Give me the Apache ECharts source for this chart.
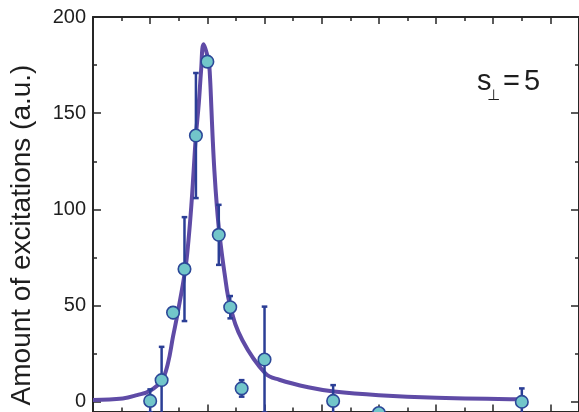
<!DOCTYPE html>
<html>
<head>
<meta charset="utf-8">
<script src="https://cdn.jsdelivr.net/npm/echarts@6/dist/echarts.min.js"></script>
<style>
  html, body { margin: 0; padding: 0; background: #ffffff; }
  #chart { width: 579px; height: 412px; }
</style>
</head>
<body>
<div id="chart"></div>
<script>
// Measured excitation amounts and their uncertainties
const pointX   = [1.0, 1.2, 1.4, 1.6, 1.8, 2.0, 2.2, 2.4, 2.6, 3.0, 4.2, 5.0, 7.5];
const pointY   = [0.5, 11.3, 46.4, 69, 138.4, 176.8, 86.8, 49.2, 7.0, 22, 0.5, -5.8, 0];
const pointErr = [6, 17.3, 2.8, 27, 32.5, 0, 15.6, 5.8, 4.3, 27.5, 8.2, 0, 7];

// Fitted resonance curve, sampled along its length
const fitX = [0, 0.52, 0.77, 1.0, 1.2, 1.31, 1.4, 1.48, 1.615, 1.67, 1.72, 1.76, 1.8, 1.85, 1.89, 1.934,
              2.021, 2.044, 2.07, 2.091, 2.122, 2.166, 2.213, 2.3, 2.404, 2.613, 3.014, 3.258, 3.763, 4.216, 5.0, 6.01, 7.526];
const fitY = [1.0, 1.8, 3.5, 5.8, 11, 20, 34, 46, 69, 84, 102, 120, 138.4, 155, 172, 185.8,
              177, 170, 153, 138.4, 120.6, 101.8, 86.8, 67, 49.2, 32, 14.8, 11.5, 7.6, 5.4, 3.5, 2.2, 1.4];

// Tick positions on the amount axis
const yMajorTicks = [0, 50, 100, 150, 200];
const yMinorTicks = [25, 75, 125, 175];

const axisColor = '#262626';
const textColor = '#1e1e1e';
const fontFamily = '"Liberation Sans", Arial, Helvetica, sans-serif';
const barColor = '#2b3e96';

const chart = echarts.init(document.getElementById('chart'), null, { renderer: 'canvas' });

function xAxisDef(position) {
  return {
    type: 'value', position: position, min: 0, max: 8.5, interval: 1,
    axisLine: { show: true, onZero: false, lineStyle: { color: axisColor, width: 2 } },
    axisTick: { show: true, inside: true, length: 7, lineStyle: { color: axisColor, width: 1.5 } },
    minorTick: { show: true, splitNumber: 2, length: 4, lineStyle: { color: axisColor, width: 1.5 } },
    axisLabel: { show: false },
    splitLine: { show: false }, minorSplitLine: { show: false }
  };
}

function yAxisDef(position, ticks, tickLen, withLine, withLabels) {
  return {
    type: 'value', position: position, min: -5, max: 200,
    axisLine: { show: withLine, onZero: false, lineStyle: { color: axisColor, width: 2 } },
    axisTick: { show: true, inside: true, length: tickLen, customValues: ticks,
                lineStyle: { color: axisColor, width: 1.5 } },
    axisLabel: withLabels
      ? { show: true, customValues: ticks, margin: 7, fontSize: 20, color: textColor, fontFamily: fontFamily }
      : { show: false },
    splitLine: { show: false }
  };
}

const option = {
  animation: false,
  backgroundColor: '#ffffff',
  grid: { left: 93, top: 17, width: 488, height: 394.5, containLabel: false },
  xAxis: [xAxisDef('bottom'), xAxisDef('top')],
  yAxis: [
    yAxisDef('left', yMajorTicks, 8, true, true),
    yAxisDef('left', yMinorTicks, 4, false, false),
    yAxisDef('right', yMajorTicks, 8, true, false),
    yAxisDef('right', yMinorTicks, 4, false, false)
  ],
  graphic: [
    {
      type: 'text', x: 22, y: 235, rotation: Math.PI / 2,
      style: { text: 'Amount of excitations (a.u.)', fill: textColor, font: '28px ' + fontFamily,
               align: 'center', verticalAlign: 'middle' }
    },
    { type: 'text', x: 477, y: 82,
      style: { text: 's', fill: textColor, font: '29px ' + fontFamily, verticalAlign: 'middle' } },
    { type: 'text', x: 487, y: 96,
      style: { text: '\u22A5', fill: textColor, font: '15px "DejaVu Sans", sans-serif', verticalAlign: 'middle' } },
    { type: 'text', x: 503, y: 82,
      style: { text: '=', fill: textColor, font: '29px ' + fontFamily, verticalAlign: 'middle' } },
    { type: 'text', x: 524, y: 82,
      style: { text: '5', fill: textColor, font: '29px ' + fontFamily, verticalAlign: 'middle' } }
  ],
  series: [
    {
      name: 'fit', type: 'line', xAxisIndex: 0, yAxisIndex: 0,
      data: fitX.map((x, i) => [x, fitY[i]]),
      showSymbol: false, smooth: 0.4, clip: false, z: 2,
      lineStyle: { color: '#5f4ba6', width: 4 }
    },
    {
      name: 'error', type: 'custom', xAxisIndex: 0, yAxisIndex: 0, z: 3,
      data: pointX.map((x, i) => [x, pointY[i], pointErr[i]]),
      renderItem: function (params, api) {
        const x = api.value(0), y = api.value(1), e = api.value(2);
        if (!e) return null;
        const top = api.coord([x, y + e]);
        const bot = api.coord([x, y - e]);
        const w = 2.8;
        const st = { stroke: barColor, lineWidth: 2.5 };
        return {
          type: 'group',
          children: [
            { type: 'line', shape: { x1: top[0], y1: top[1], x2: bot[0], y2: bot[1] }, style: st },
            { type: 'line', shape: { x1: top[0] - w, y1: top[1], x2: top[0] + w, y2: top[1] }, style: st },
            { type: 'line', shape: { x1: bot[0] - w, y1: bot[1], x2: bot[0] + w, y2: bot[1] }, style: st }
          ]
        };
      }
    },
    {
      name: 'data', type: 'scatter', xAxisIndex: 0, yAxisIndex: 0, z: 4, clip: false,
      data: pointX.map((x, i) => [x, pointY[i]]),
      symbol: 'circle', symbolSize: 12.5,
      itemStyle: { color: '#72c6ca', borderColor: '#2c4898', borderWidth: 1.6, opacity: 1 }
    }
  ]
};

chart.setOption(option);
</script>
</body>
</html>
